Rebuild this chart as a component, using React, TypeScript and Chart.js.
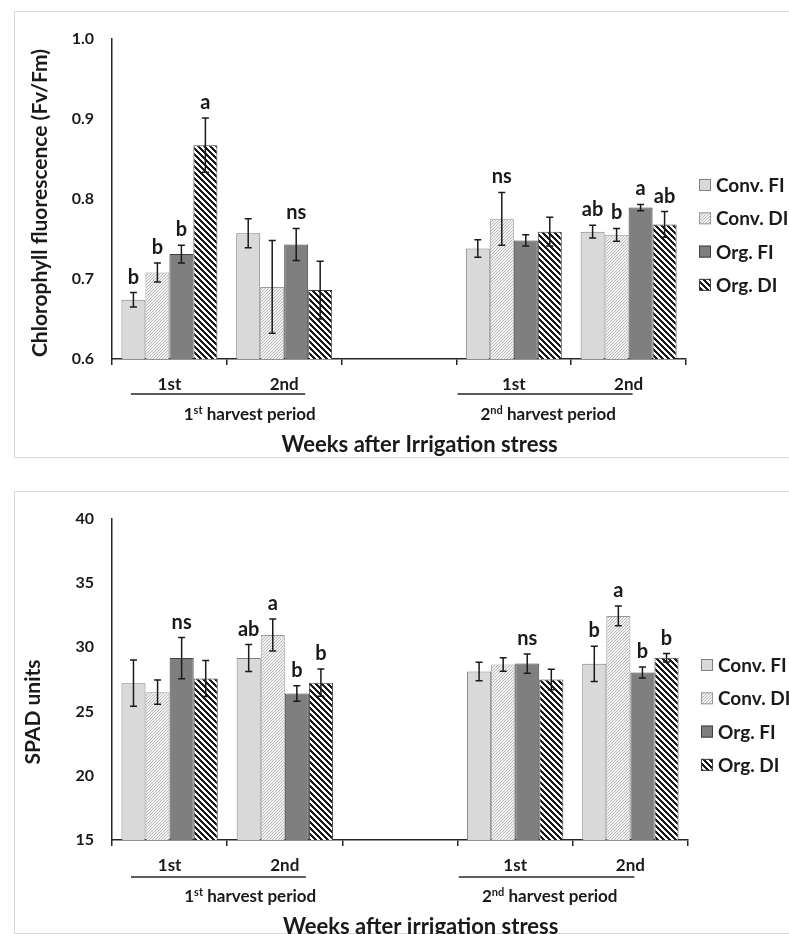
import React, { useEffect, useRef } from 'react';
import { Chart, registerables } from 'chart.js';

Chart.register(...registerables);
Chart.defaults.font.family = 'Lato';

// ---------- data ----------
const categories = ['1st', '2nd', '', '1st', '2nd'];
const seriesNames = ['Conv. FI', 'Conv. DI', 'Org. FI', 'Org. DI'];

// Chart 1 – Chlorophyll fluorescence (Fv/Fm)
const fvConvFI = [0.674, 0.757, null, 0.738, 0.759];
const fvConvDI = [0.708, 0.69, null, 0.775, 0.755];
const fvOrgFI = [0.731, 0.743, null, 0.748, 0.789];
const fvOrgDI = [0.867, 0.686, null, 0.759, 0.768];
const fvErrConvFI = [0.009, 0.018, null, 0.011, 0.008];
const fvErrConvDI = [0.012, 0.058, null, 0.033, 0.008];
const fvErrOrgFI = [0.011, 0.02, null, 0.007, 0.004];
const fvErrOrgDI = [0.034, 0.036, null, 0.018, 0.016];
const fvLetConvFI = ['b', '', '', '', 'ab'];
const fvLetConvDI = ['b', '', '', 'ns', 'b'];
const fvLetOrgFI = ['b', 'ns', '', '', 'a'];
const fvLetOrgDI = ['a', '', '', '', 'ab'];
const fvTicks = [0.6, 0.7, 0.8, 0.9, 1.0];

// Chart 2 – SPAD units
const spConvFI = [27.2, 29.15, null, 28.1, 28.7];
const spConvDI = [26.5, 30.95, null, 28.65, 32.43];
const spOrgFI = [29.15, 26.4, null, 28.72, 28.03];
const spOrgDI = [27.56, 27.24, null, 27.48, 29.17];
const spErrConvFI = [1.8, 1.05, null, 0.72, 1.38];
const spErrConvDI = [0.95, 1.24, null, 0.53, 0.77];
const spErrOrgFI = [1.6, 0.6, null, 0.74, 0.42];
const spErrOrgDI = [1.4, 1.06, null, 0.8, 0.33];
const spLetConvFI = ['', 'ab', '', '', 'b'];
const spLetConvDI = ['', 'a', '', '', 'a'];
const spLetOrgFI = ['ns', 'b', '', 'ns', 'b'];
const spLetOrgDI = ['', 'b', '', '', 'b'];
const spTicks = [15, 20, 25, 30, 35, 40];

const periodNames = [
  ['1', 'st', ' harvest period'],
  ['2', 'nd', ' harvest period'],
];

// ---------- helpers ----------
const TEXT = '#1a1a1a';

function makePattern(size: number, stripe: number, fg: number[], bg: number[], dir: 'up' | 'down') {
  const c = document.createElement('canvas');
  c.width = size;
  c.height = size;
  const ctx = c.getContext('2d')!;
  const img = ctx.createImageData(size, size);
  for (let y = 0; y < size; y++) {
    for (let x = 0; x < size; x++) {
      const k = dir === 'down' ? (((x - y) % size) + size) % size : (x + y) % size;
      const col = k < stripe ? fg : bg;
      const p = (y * size + x) * 4;
      img.data[p] = col[0];
      img.data[p + 1] = col[1];
      img.data[p + 2] = col[2];
      img.data[p + 3] = 255;
    }
  }
  ctx.putImageData(img, 0, 0);
  return ctx.createPattern(c, 'repeat')!;
}

const errorBarsPlugin = {
  id: 'errorBars',
  afterDatasetsDraw(chart: any) {
    const ctx = chart.ctx;
    const ys = chart.scales.y;
    ctx.save();
    chart.data.datasets.forEach((ds: any, di: number) => {
      const meta = chart.getDatasetMeta(di);
      meta.data.forEach((el: any, i: number) => {
        const v = ds.data[i];
        const e = ds.errors[i];
        if (v == null || e == null) return;
        const yt = ys.getPixelForValue(v + e);
        const yb = ys.getPixelForValue(v - e);
        ctx.strokeStyle = '#1a1a1a';
        ctx.lineWidth = 1.5;
        ctx.beginPath();
        ctx.moveTo(el.x, yt);
        ctx.lineTo(el.x, yb);
        ctx.moveTo(el.x - 3.5, yt);
        ctx.lineTo(el.x + 3.5, yt);
        ctx.moveTo(el.x - 3.5, yb);
        ctx.lineTo(el.x + 3.5, yb);
        ctx.stroke();
        const L = ds.letters[i];
        if (L) {
          ctx.fillStyle = TEXT;
          ctx.font = 'bold 20px Lato';
          ctx.textAlign = 'center';
          ctx.textBaseline = 'alphabetic';
          ctx.fillText(L, el.x, yt - 9);
        }
      });
    });
    ctx.restore();
  },
};

const decorPlugin = {
  id: 'decor',
  afterDraw(chart: any, _args: any, opts: any) {
    const ctx = chart.ctx;
    const xs = chart.scales.x;
    const area = chart.chartArea;
    ctx.save();
    ctx.fillStyle = TEXT;
    ctx.strokeStyle = '#262626';

    // period group lines and labels
    const lineY = area.bottom + opts.lineDy;
    const labY = area.bottom + opts.periodDy;
    opts.groups.forEach((g: any, gi: number) => {
      ctx.lineWidth = 1.5;
      ctx.beginPath();
      ctx.moveTo(xs.getPixelForValue(g.from), lineY);
      ctx.lineTo(xs.getPixelForValue(g.to), lineY);
      ctx.stroke();
      const [a, sup, b] = periodNames[gi];
      ctx.font = 'bold 17px Lato';
      const wa = ctx.measureText(a).width;
      const wb = ctx.measureText(b).width;
      ctx.font = 'bold 11px Lato';
      const ws = ctx.measureText(sup).width;
      const total = wa + ws + wb;
      let x = xs.getPixelForValue(g.label) - total / 2;
      ctx.textAlign = 'left';
      ctx.textBaseline = 'middle';
      ctx.font = 'bold 17px Lato';
      ctx.fillText(a, x, labY);
      x += wa;
      ctx.font = 'bold 11px Lato';
      ctx.fillText(sup, x, labY - 5);
      x += ws;
      ctx.font = 'bold 17px Lato';
      ctx.fillText(b, x, labY);
    });

    // x axis title
    ctx.font = 'bold 22px Lato';
    ctx.textAlign = 'center';
    ctx.textBaseline = 'middle';
    ctx.fillText(opts.xTitle, xs.getPixelForValue(opts.xTitleAt), area.bottom + opts.xTitleDy);

    // y axis title
    ctx.save();
    ctx.translate(opts.yTitleX, opts.yTitleY);
    ctx.rotate(-Math.PI / 2);
    ctx.font = 'bold 21px Lato';
    ctx.fillText(opts.yTitle, 0, 0);
    ctx.restore();

    // legend
    chart.data.datasets.forEach((ds: any, i: number) => {
      const cy = opts.legendTop + i * 33.3;
      const sx = area.right + 13;
      ctx.fillStyle = ds.backgroundColor;
      ctx.fillRect(sx, cy - 6, 12, 12);
      ctx.strokeStyle = ds.borderColor;
      ctx.lineWidth = 1;
      ctx.strokeRect(sx + 0.5, cy - 5.5, 11, 11);
      ctx.fillStyle = TEXT;
      ctx.font = 'bold 19px Lato';
      ctx.textAlign = 'left';
      ctx.textBaseline = 'middle';
      ctx.fillText(ds.label, sx + 17, cy + 1);
    });
    ctx.restore();
  },
};

type PanelProps = {
  left: number;
  top: number;
  width: number;
  height: number;
  values: (number | null)[][];
  errors: (number | null)[][];
  letters: string[][];
  ticks: number[];
  decimals: number;
  areaTop: number;
  areaRight: number;
  xHeight: number;
  yTitle: string;
  xTitle: string;
  yTitleX: number;
  yTitleY: number;
  legendTop: number;
  lineDy: number;
  periodDy: number;
  xTitleDy: number;
};

function Panel(p: PanelProps) {
  const ref = useRef<HTMLCanvasElement>(null);
  useEffect(() => {
    const canvas = ref.current!;
    const patConvDI = makePattern(3, 1, [185, 185, 185], [242, 242, 242], 'up');
    const patOrgDI = makePattern(6, 3, [26, 26, 26], [255, 255, 255], 'down');
    const fills: any[] = ['#d9d9d9', patConvDI, '#7f7f7f', patOrgDI];
    const borders = ['#7f7f7f', '#9a9a9a', '#404040', '#404040'];
    const datasets = seriesNames.map((name, i) => ({
      label: name,
      data: p.values[i],
      errors: p.errors[i],
      letters: p.letters[i],
      backgroundColor: fills[i],
      borderColor: borders[i],
      borderWidth: 1,
      barPercentage: 1,
      categoryPercentage: 0.836,
    }));
    const chart = new Chart(canvas, {
      type: 'bar',
      data: { labels: categories, datasets: datasets as any },
      plugins: [errorBarsPlugin, decorPlugin],
      options: {
        responsive: false,
        animation: false,
        devicePixelRatio: 1,
        layout: { padding: { left: 0, top: p.areaTop, right: p.areaRight, bottom: 0 } },
        plugins: {
          legend: { display: false },
          tooltip: { enabled: false },
          decor: {
            groups: [
              { from: -0.335, to: 1.183, label: 0.7 },
              { from: 2.51, to: 4.035, label: 3.3 },
            ],
            yTitle: p.yTitle,
            xTitle: p.xTitle,
            yTitleX: p.yTitleX,
            yTitleY: p.yTitleY,
            legendTop: p.legendTop,
            lineDy: p.lineDy,
            periodDy: p.periodDy,
            xTitleDy: p.xTitleDy,
            xTitleAt: 2.18,
          },
        } as any,
        scales: {
          x: {
            type: 'category',
            offset: true,
            grid: {
              display: true,
              drawOnChartArea: false,
              drawTicks: true,
              tickLength: 6,
              offset: true,
              color: '#262626',
              lineWidth: 1.5,
            },
            border: { display: true, color: '#262626', width: 1.5 },
            ticks: {
              font: { family: 'Lato', weight: 'bold', size: 17 },
              color: TEXT,
              padding: 9,
              autoSkip: false,
              maxRotation: 0,
            },
            afterFit: (s: any) => {
              s.height = p.xHeight;
            },
          },
          y: {
            min: p.ticks[0],
            max: p.ticks[p.ticks.length - 1],
            afterBuildTicks: (s: any) => {
              s.ticks = p.ticks.map((v) => ({ value: v }));
            },
            grid: { display: false, drawTicks: false },
            border: { display: true, color: '#262626', width: 1.5 },
            ticks: {
              font: { family: 'Lato', weight: 'bold', size: 16 },
              color: TEXT,
              padding: 18,
              callback: (v: any) => Number(v).toFixed(p.decimals),
            },
            afterFit: (s: any) => {
              s.width = 98;
            },
          },
        } as any,
      },
    });
    return () => chart.destroy();
  }, []);
  return (
    <>
      <div
        style={{
          position: 'absolute',
          left: p.left,
          top: p.top,
          width: 900,
          height: p.height,
          borderTop: '1px solid #d9d9d9',
          borderLeft: '1px solid #d9d9d9',
          borderBottom: '1px solid #d9d9d9',
          boxSizing: 'border-box',
        }}
      />
      <canvas
        ref={ref}
        width={p.width}
        height={p.height}
        style={{ position: 'absolute', left: p.left, top: p.top, width: p.width, height: p.height, display: 'block' }}
      />
    </>
  );
}

export default function App() {
  return (
    <div
      style={{
        position: 'absolute',
        left: 0,
        top: 0,
        width: 789,
        height: 934,
        overflow: 'hidden',
        background: '#ffffff',
      }}
    >
      <Panel
        left={14}
        top={11}
        width={775}
        height={447}
        values={[fvConvFI, fvConvDI, fvOrgFI, fvOrgDI]}
        errors={[fvErrConvFI, fvErrConvDI, fvErrOrgFI, fvErrOrgDI]}
        letters={[fvLetConvFI, fvLetConvDI, fvLetOrgFI, fvLetOrgDI]}
        ticks={fvTicks}
        decimals={1}
        areaTop={11}
        areaRight={103}
        xHeight={99}
        yTitle="Chlorophyll fluorescence (Fv/Fm)"
        xTitle="Weeks after Irrigation stress"
        yTitleX={26}
        yTitleY={192}
        legendTop={174}
        lineDy={35}
        periodDy={56}
        xTitleDy={86}
      />
      <Panel
        left={14}
        top={491}
        width={775}
        height={443}
        values={[spConvFI, spConvDI, spOrgFI, spOrgDI]}
        errors={[spErrConvFI, spErrConvDI, spErrOrgFI, spErrOrgDI]}
        letters={[spLetConvFI, spLetConvDI, spLetOrgFI, spLetOrgDI]}
        ticks={spTicks}
        decimals={0}
        areaTop={12}
        areaRight={101}
        xHeight={94}
        yTitle="SPAD units"
        xTitle="Weeks after irrigation stress"
        yTitleX={19}
        yTitleY={221}
        legendTop={174}
        lineDy={37}
        periodDy={57}
        xTitleDy={87}
      />
    </div>
  );
}
